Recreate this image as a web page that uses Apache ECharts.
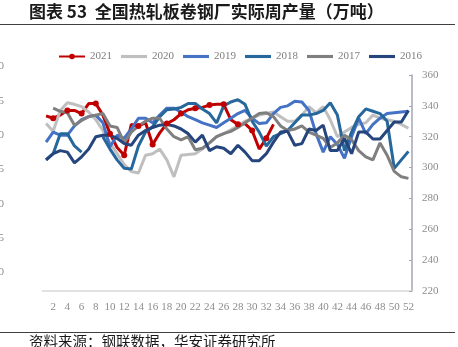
<!DOCTYPE html>
<html>
<head>
<meta charset="utf-8">
<script src="https://cdn.jsdelivr.net/npm/echarts@6/dist/echarts.min.js"></script>
<style>
  html, body { margin: 0; padding: 0; background: #ffffff; }
  #chart { width: 458px; height: 347px; }
</style>
</head>
<body>
<div id="chart"></div>
<script>
// Week numbers along the x axis
const weeks = ['1','2','3','4','5','6','7','8','9','10','11','12','13','14','15','16','17','18','19','20',
  '21','22','23','24','25','26','27','28','29','30','31','32','33','34','35','36','37','38','39','40',
  '41','42','43','44','45','46','47','48','49','50','51','52'];

// Weekly hot-rolled coil output by year (10k tonnes)
const y2021 = [333.5, 332, 334, 337, 337, 335, 341.5, 341.5, 334, 322, 313, 308, 328, 327, 329, 315, 322.5,
  328.5, 331, 335, 337.5, 338.5, 339, 340.5, 341, 341, 331, 328, 328.5, 324, 312, 319, 328];
const y2020 = [328.5, 323.5, 337, 342, 341, 339.5, 336, 331, 324, 316, 309, 302, 297.5, 296.5, 308, 309, 312,
  305, 294, 308, 308.5, 309, 312, 316, 320, 322, 324.5, 327, 330, 332, 334, 335, 336, 333, 330, 330, 334,
  339.5, 335.5, 339.5, 331, 320, 323, 326, 328, 329, 334, 332, 331, 330, 328, 325.5];
const y2019 = [316.5, 323, 321, 321, 327, 331, 333, 334, 329, 313.5, 321, 319, 325, 332, 332, 329, 334,
  338.5, 338.5, 336, 333, 331, 329, 327.5, 326, 329, 332, 335, 337, 332, 328.5, 329, 335, 339, 340, 343,
  342.5, 337, 322, 310, 320, 315, 306, 320, 332, 322, 328, 332, 335, 335.5, 336, 336.5];
const y2018 = [305, 309, 322, 322, 314, 310, null, null, 320, 312, 305, 299.5, 299, 314, 323, 326.5, 333,
  337.5, 338, 339, 341.5, 341.5, 338, 335, 329, 340, 342.5, 344, 341, 330, 323, 314, 320, 322, 324, 329,
  334, 334, 335, 337, 342, 334, 311, 323, 333, 338, 336.5, 335, 330, 299.5, 305, 310.5];
const y2017 = [null, 338.5, 336.5, 335.5, 327.5, 330.5, 333, 334, 335, 327, 326, 316, 323, 327, 330, 332,
  332, 325, 320, 318, 320, 311.5, 312.5, 316, 320, 322, 323.5, 326, 329, 332, 335, 335.5, 333, 327, 324,
  325, 327, 323, 321, 319, 313, 316, 321, 318, 311, 307, 305, 316, 308, 297.5, 294, 293];
const y2016 = [305, 309, 311, 310, 303, 307, 312, 320, 321, 321, 319, 315.5, 314.5, 321, 324, 326, 327.5,
  328, 327, 325, 322, 316.5, 321, 311, 313.5, 312.5, 309, 314.5, 310, 304.5, 304.5, 309, 316.5, 323,
  323.5, 314.5, 315.5, 325, 324, 327.5, 311, 311, 319, 309, 323, 323, 318.5, 318.5, 324, 329.5, 329.5, 337];

// Right-hand value axis
const yMin = 220, yMax = 360, yStep = 20;
// Labels of the secondary axis at the far left edge
const leftAxisLabels = ['30', '25', '20', '15', '10', '5', '0'];

const seriesDefs = [
  { name: '2021', data: y2021, color: '#c00000', dots: true },
  { name: '2020', data: y2020, color: '#bfbfbf' },
  { name: '2019', data: y2019, color: '#4472c4' },
  { name: '2018', data: y2018, color: '#26679c' },
  { name: '2017', data: y2017, color: '#7f7f7f' },
  { name: '2016', data: y2016, color: '#25457c' }
];

const serif = '"Liberation Serif", "DejaVu Serif", serif';
const cjk = '"Noto Sans CJK SC", sans-serif';
// Flat bar used as the legend key of the plain lines
const barIcon = 'path://M0,0H100V12H0Z';

const chart = echarts.init(document.getElementById('chart'), null, { renderer: 'canvas' });

const leftTexts = leftAxisLabels.map((t, i) => ({
  type: 'text',
  right: 454,
  top: 61 + i * 34.3,
  style: { text: t, fill: '#8c8c8c', font: '11px ' + serif, textAlign: 'right' }
}));

chart.setOption({
  animation: false,
  backgroundColor: '#ffffff',
  grid: { left: 42.5, right: 46, top: 75, bottom: 56, containLabel: false },
  legend: {
    top: 46,
    left: 53,
    itemWidth: 26,
    itemHeight: 7,
    itemGap: 9,
    textStyle: { color: '#7f7f7f', fontFamily: serif, fontSize: 11 },
    data: seriesDefs.map(s => s.dots ? { name: s.name } : { name: s.name, icon: barIcon })
  },
  xAxis: {
    type: 'category',
    data: weeks,
    boundaryGap: true,
    axisLine: { lineStyle: { color: '#d9d9d9', width: 1.5 } },
    axisTick: { show: false },
    axisLabel: {
      color: '#8c8c8c', fontFamily: serif, fontSize: 11, margin: 11,
      interval: (idx) => idx % 2 === 1
    },
    splitLine: { show: false }
  },
  yAxis: {
    type: 'value',
    position: 'right',
    min: yMin, max: yMax, interval: yStep,
    axisLine: { show: true, lineStyle: { color: '#a6a6b4', width: 1.5 } },
    axisTick: { show: true, inside: true, length: 3, lineStyle: { color: '#a6a6b4' } },
    axisLabel: { color: '#8c8c8c', fontFamily: serif, fontSize: 11, margin: 10 },
    splitLine: { show: false }
  },
  series: seriesDefs.map(s => ({
    name: s.name,
    type: 'line',
    data: s.data,
    connectNulls: false,
    symbol: s.dots ? 'circle' : 'none',
    symbolSize: 6,
    showSymbol: !!s.dots,
    lineStyle: { color: s.color, width: 3 },
    itemStyle: { color: s.color },
    emphasis: { disabled: true }
  })),
  graphic: [
    {
      type: 'text', left: 29, top: 3,
      style: { text: '图表 53  全国热轧板卷钢厂实际周产量（万吨）', fill: '#1a1a1a',
        font: 'bold 17px ' + cjk }
    },
    { type: 'line', shape: { x1: 0, y1: 24.5, x2: 455, y2: 24.5 }, style: { stroke: '#404040', lineWidth: 1 } },
    { type: 'line', shape: { x1: 0, y1: 332.5, x2: 455, y2: 332.5 }, style: { stroke: '#404040', lineWidth: 1 } },
    {
      type: 'text', left: 29, top: 334,
      style: { text: '资料来源：钢联数据，华安证券研究所', fill: '#1a1a1a', font: '14.5px ' + cjk }
    }
  ].concat(leftTexts)
});
</script>
</body>
</html>
